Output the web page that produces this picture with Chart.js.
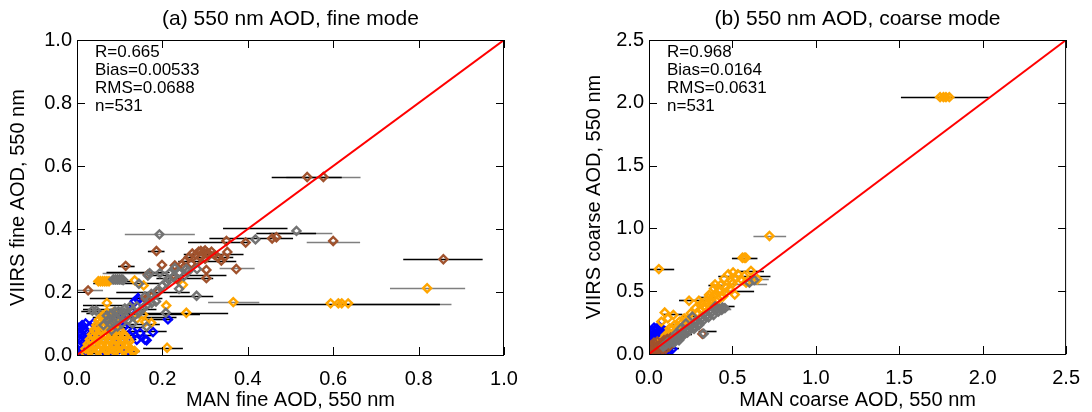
<!DOCTYPE html>
<html>
<head>
<meta charset="utf-8">
<title>VIIRS vs MAN AOD</title>
<script src="https://cdn.jsdelivr.net/npm/chart.js@4.4.0/dist/chart.umd.min.js"></script>
<style>
  body { margin: 0; background: #fff; }
  .panel { position: absolute; top: 0; width: 546px; height: 412px; }
</style>
</head>
<body>
<div class="panel" style="left:0"><canvas id="fineChart" width="546" height="412"></canvas></div>
<div class="panel" style="left:546px"><canvas id="coarseChart" width="546" height="412"></canvas></div>
<script>
// ---- fine mode, [MAN, VIIRS] pairs by site group ----
const fineBlue = [
  [0.005,0.01],[0.005,0.03],[0.005,0.05],[0.005,0.07],[0.008,0.085],[0.015,0.02],[0.015,0.04],
  [0.015,0.06],[0.015,0.08],[0.025,0.01],[0.025,0.03],[0.025,0.05],[0.025,0.07],[0.035,0.02],
  [0.035,0.045],[0.04,0.06],[0.045,0.08],[0.03,0.09],[0.02,0.1],[0.038,0.1],[0.055,0.0],[0.07,0.005],
  [0.0,0.0],[0.01,0.0],[0.0,0.02],[0.01,0.015],[0.01,0.045],[0.01,0.065],[0.02,0.035],[0.02,0.055],
  [0.02,0.075],[0.03,0.06],[0.03,0.025],[0.04,0.035],[0.045,0.06],[0.0,0.09],[0.012,0.095],
  [0.213,0.113],[0.178,0.073],[0.148,0.07],[0.13,0.076],[0.159,0.049],[0.163,0.047],[0.14,0.048],
  [0.12,0.012],[0.144,0.175],[0.128,0.143],[0.135,0.17],[0.143,0.181],[0.105,0.12],[0.11,0.09],
  [0.125,0.06],[0.09,0.04],[0.1,0.02]
];
const fineOrange = [
  [0.02,0.005],[0.04,0.005],[0.06,0.005],[0.08,0.005],[0.1,0.005],[0.12,0.005],
  [0.03,0.012],[0.05,0.012],[0.07,0.012],[0.09,0.012],[0.11,0.012],[0.13,0.012],
  [0.02,0.02],[0.035,0.02],[0.05,0.02],[0.065,0.02],[0.08,0.02],[0.095,0.02],[0.11,0.02],[0.125,0.02],
  [0.028,0.028],[0.043,0.028],[0.058,0.028],[0.073,0.028],[0.088,0.028],[0.103,0.028],[0.118,0.028],
  [0.025,0.035],[0.04,0.035],[0.055,0.035],[0.07,0.035],[0.085,0.035],[0.1,0.035],[0.115,0.035],
  [0.033,0.043],[0.048,0.043],[0.063,0.043],[0.078,0.043],[0.093,0.043],[0.108,0.043],[0.123,0.043],
  [0.03,0.05],[0.045,0.05],[0.06,0.05],[0.075,0.05],[0.09,0.05],[0.105,0.05],[0.12,0.05],
  [0.038,0.058],[0.053,0.058],[0.068,0.058],[0.083,0.058],[0.098,0.058],[0.113,0.058],
  [0.035,0.065],[0.05,0.065],[0.065,0.065],[0.08,0.065],[0.095,0.065],[0.11,0.065],
  [0.043,0.073],[0.058,0.073],[0.073,0.073],[0.088,0.073],[0.103,0.073],
  [0.04,0.08],[0.055,0.08],[0.07,0.08],[0.085,0.08],[0.1,0.08],
  [0.048,0.088],[0.063,0.088],[0.078,0.088],[0.093,0.088],
  [0.045,0.095],[0.06,0.095],[0.075,0.095],[0.09,0.095],
  [0.055,0.103],[0.07,0.103],[0.085,0.103],
  [0.05,0.11],[0.065,0.11],[0.08,0.11],[0.06,0.118],[0.075,0.118],[0.09,0.118],
  [0.06,0.125],[0.075,0.125],[0.07,0.135],[0.085,0.135],
  [0.155,0.128],[0.14,0.115],[0.16,0.105],[0.174,0.102],[0.135,0.013],[0.211,0.023],
  [0.07,0.165],[0.209,0.157],[0.256,0.134],[0.135,0.237],[0.156,0.221],[0.248,0.223],
  [0.05,0.234],[0.055,0.234],[0.06,0.234],[0.065,0.234],[0.07,0.234],[0.075,0.234],
  [0.366,0.168],[0.594,0.164],[0.612,0.164],[0.62,0.164],[0.635,0.164],[0.82,0.212]
];
const fineGray = [
  [0.514,0.394],[0.193,0.383],[0.418,0.367],[0.28,0.188],[0.239,0.21],[0.17,0.26],[0.166,0.252],
  [0.145,0.226],[0.085,0.24],[0.09,0.24],[0.095,0.24],[0.1,0.24],[0.105,0.24],[0.108,0.238],
  [0.036,0.141],[0.045,0.141],[0.208,0.134],[0.217,0.26],[0.229,0.276],[0.256,0.273],[0.281,0.273],
  [0.194,0.26],[0.213,0.241],[0.225,0.247],[0.159,0.186],[0.174,0.194],[0.186,0.202],
  [0.2,0.22],[0.21,0.23],[0.24,0.26],[0.25,0.25],[0.26,0.265],
  [0.073,0.111],[0.089,0.122],[0.097,0.138],[0.112,0.148],[0.124,0.153],[0.105,0.1],[0.12,0.111],
  [0.136,0.127],[0.151,0.143],[0.081,0.079],[0.163,0.09],[0.089,0.138],[0.062,0.095],[0.14,0.155],
  [0.07,0.125],[0.08,0.13],[0.085,0.105],[0.095,0.115],[0.1,0.128],[0.11,0.135],[0.115,0.12],
  [0.13,0.14],[0.145,0.135],[0.155,0.15],[0.165,0.16],[0.175,0.165],[0.185,0.17],[0.13,0.1],
  [0.095,0.09],[0.078,0.1]
];
const fineBrown = [
  [0.539,0.565],[0.577,0.565],[0.35,0.362],[0.395,0.357],[0.457,0.37],[0.467,0.374],[0.6,0.362],
  [0.858,0.304],[0.026,0.205],[0.114,0.283],[0.186,0.33],[0.373,0.273],[0.303,0.27],[0.303,0.244],
  [0.255,0.3],[0.262,0.31],[0.27,0.322],[0.278,0.318],[0.285,0.328],[0.29,0.33],[0.296,0.326],
  [0.3,0.332],[0.305,0.325],[0.31,0.32],[0.315,0.328],[0.322,0.318],[0.33,0.31],[0.338,0.3],
  [0.345,0.31],[0.352,0.327],[0.268,0.29],[0.28,0.298],[0.29,0.31],[0.3,0.305],[0.245,0.286],
  [0.25,0.278],[0.199,0.286],[0.229,0.284],[0.166,0.255],[0.229,0.249],[0.235,0.24],
  [0.161,0.178],[0.165,0.175],[0.175,0.185],[0.19,0.2]
];
// horizontal uncertainty of the MAN value: [VIIRS, MAN low, MAN high]
const fineBarsBlack = [
  [0.565,0.456,0.62],[0.404,0.342,0.493],[0.387,0.42,0.56],[0.373,0.31,0.506],[0.36,0.26,0.4],
  [0.33,0.166,0.205],[0.32,0.25,0.39],[0.31,0.25,0.366],[0.304,0.764,0.95],[0.297,0.237,0.373],
  [0.283,0.096,0.135],[0.265,0.069,0.217],[0.255,0.17,0.35],[0.243,0.186,0.319],[0.234,0.045,0.131],
  [0.228,0.038,0.194],[0.2,0.092,0.264],[0.188,0.217,0.319],[0.18,0.03,0.2],[0.162,0.37,0.85],
  [0.16,0.014,0.139],[0.145,0.014,0.186],[0.14,0.01,0.12],[0.134,0.022,0.354],[0.13,0.092,0.288],
  [0.12,0.037,0.233],[0.113,0.155,0.225],[0.1,0.022,0.194],[0.09,0.077,0.155],[0.075,0.037,0.21],
  [0.065,0.08,0.18],[0.05,0.014,0.139],[0.04,0.037,0.12],[0.023,0.155,0.248],[0.013,0.037,0.147],
  [0.005,0.01,0.1]
];
const fineBarsGray = [
  [0.565,0.49,0.664],[0.387,0.45,0.598],[0.383,0.112,0.276],[0.36,0.538,0.663],[0.275,0.334,0.416],
  [0.26,0.06,0.2],[0.212,0.733,0.909],[0.205,0.002,0.061],[0.168,0.307,0.427],[0.162,0.6,0.877]
];
const fineStats = ['R=0.665', 'Bias=0.00533', 'RMS=0.0688', 'n=531'];

// ---- coarse mode ----
const coarseBlue = [
  [0.01,0.02],[0.01,0.06],[0.01,0.1],[0.015,0.14],[0.02,0.18],[0.03,0.04],[0.03,0.12],[0.04,0.2],
  [0.05,0.16],[0.06,0.22],[0.07,0.19],[0.08,0.2],[0.05,0.08],[0.09,0.15],[0.1,0.06],[0.11,0.03],
  [0.12,0.02],[0.08,0.01],[0.03,0.0],[0.06,0.0],[0.13,0.08],[0.02,0.15],[0.04,0.12],
  [0.0,0.0],[0.0,0.04],[0.0,0.08],[0.0,0.12],[0.0,0.16],[0.02,0.1],[0.04,0.16],[0.06,0.18],
  [0.1,0.18],[0.07,0.13],[0.05,0.2],[0.03,0.21],[0.1,0.1],[0.12,0.05],[0.14,0.04],[0.09,0.0]
];
const coarseOrange = [
  [1.745,2.045],[1.765,2.045],[1.78,2.045],[1.8,2.045],[0.722,0.94],[0.059,0.676],
  [0.56,0.766],[0.571,0.766],[0.58,0.766],[0.475,0.635],[0.504,0.649],[0.533,0.635],[0.572,0.622],
  [0.611,0.662],[0.65,0.595],[0.494,0.581],[0.553,0.595],[0.582,0.568],[0.514,0.473],[0.396,0.554],
  [0.426,0.514],[0.455,0.486],[0.484,0.519],[0.24,0.424],[0.299,0.424],[0.318,0.405],[0.357,0.446],
  [0.387,0.459],[0.377,0.405],[0.406,0.419],[0.279,0.365],[0.25,0.324],[0.211,0.284],[0.182,0.257],
  [0.152,0.23],[0.123,0.203],[0.094,0.33],[0.146,0.311],[0.113,0.284],[0.074,0.257],[0.338,0.365],
  [0.416,0.432],[0.445,0.459],[0.07,0.1],[0.09,0.12],[0.05,0.09],
  [0.1,0.15],[0.12,0.17],[0.14,0.2],[0.17,0.22],[0.2,0.25],[0.22,0.27],[0.26,0.3],[0.29,0.33],
  [0.31,0.35],[0.33,0.38],[0.35,0.4],[0.37,0.43],[0.36,0.47],[0.4,0.48],[0.42,0.5],[0.46,0.53],
  [0.5,0.56],[0.52,0.6],[0.45,0.6],[0.43,0.55],[0.39,0.52],
  [0.04,0.06],[0.06,0.07],[0.08,0.09],[0.1,0.1],[0.12,0.13]
];
const coarseGray = [
  [0.631,0.589],[0.602,0.568],[0.455,0.365],[0.436,0.351],[0.416,0.338],[0.387,0.311],[0.357,0.292],
  [0.328,0.27],[0.299,0.243],[0.328,0.162],[0.27,0.216],[0.24,0.189],[0.211,0.162],[0.182,0.135],
  [0.152,0.108],[0.123,0.086],[0.094,0.068],[0.162,0.162],[0.26,0.297],[0.221,0.243],
  [0.191,0.203],[0.396,0.378],
  [0.085,0.06],[0.1,0.075],[0.11,0.09],[0.13,0.1],[0.14,0.115],[0.16,0.13],[0.17,0.145],
  [0.19,0.16],[0.2,0.175],[0.22,0.19],[0.23,0.2],[0.25,0.22],[0.26,0.23],[0.28,0.25],[0.29,0.26],
  [0.31,0.275],[0.32,0.29],[0.34,0.3],[0.35,0.31],[0.37,0.325],[0.38,0.335],[0.4,0.35],[0.42,0.36],
  [0.44,0.37],[0.15,0.09],[0.18,0.11],[0.2,0.14],[0.23,0.17],[0.27,0.2],[0.3,0.23]
];
const coarseBrown = [
  [0.01,0.01],[0.02,0.03],[0.03,0.05],[0.04,0.02],[0.05,0.06],[0.06,0.04],[0.07,0.08],[0.08,0.05],
  [0.09,0.09],[0.1,0.07],[0.12,0.1],[0.015,0.07],[0.03,0.09],[0.05,0.1],[0.11,0.12],[0.14,0.11],
  [0.06,0.01],[0.32,0.16],[0.0,0.0],[0.0,0.03],[0.0,0.06],[0.02,0.0],[0.04,0.04],[0.06,0.06],
  [0.08,0.07],[0.1,0.04],[0.12,0.06],[0.07,0.02],[0.09,0.11],[0.13,0.13],[0.16,0.12]
];
const coarseBarsBlack = [
  [2.045,1.51,2.04],[0.676,0.004,0.151],[0.766,0.497,0.65],[0.66,0.532,0.689],[0.62,0.415,0.728],
  [0.55,0.356,0.444],[0.5,0.454,0.63],[0.45,0.297,0.395],[0.43,0.18,0.337],[0.38,0.376,0.513],
  [0.32,0.082,0.2],[0.3,0.2,0.297],[0.24,0.141,0.219],[0.18,0.297,0.405],[0.16,0.18,0.258],
  [0.05,0.082,0.18]
];
const coarseBarsGray = [
  [0.94,0.626,0.822],[0.6,0.581,0.718],[0.56,0.493,0.708],[0.36,0.356,0.493]
];
const coarseStats = ['R=0.968', 'Bias=0.0164', 'RMS=0.0631', 'n=531'];

const FONT = "'Liberation Sans', Arial, Helvetica, sans-serif";
Chart.defaults.font.family = FONT;
Chart.defaults.color = '#000';

const toPts = arr => arr.map(p => ({ x: p[0], y: p[1] }));

// error bars, frame with inward ticks, stats block and panel title
const panelDecor = {
  id: 'panelDecor',
  beforeDatasetsDraw(chart, args, opts) {
    const { ctx, chartArea: a, scales: { x, y } } = chart;
    ctx.save();
    ctx.beginPath();
    ctx.rect(a.left, a.top, a.right - a.left, a.bottom - a.top);
    ctx.clip();
    ctx.lineWidth = 1.6;
    [[opts.barsGray, '#7f7f7f'], [opts.barsBlack, '#000']].forEach(([bars, col]) => {
      ctx.strokeStyle = col;
      bars.forEach(b => {
        const py = Math.round(y.getPixelForValue(b[0])) + 0.5;
        ctx.beginPath();
        ctx.moveTo(x.getPixelForValue(b[1]), py);
        ctx.lineTo(x.getPixelForValue(b[2]), py);
        ctx.stroke();
      });
    });
    ctx.restore();
  },
  afterDraw(chart, args, opts) {
    const { ctx, chartArea: a, scales: { x, y } } = chart;
    ctx.save();
    ctx.strokeStyle = '#000';
    ctx.lineWidth = 1;
    ctx.strokeRect(a.left + 0.5, a.top + 0.5, a.right - a.left - 1, a.bottom - a.top);
    const tl = 8;
    ctx.beginPath();
    x.ticks.forEach(t => {
      const px = Math.round(x.getPixelForValue(t.value)) + 0.5;
      ctx.moveTo(px, a.bottom); ctx.lineTo(px, a.bottom - tl);
      ctx.moveTo(px, a.top); ctx.lineTo(px, a.top + tl);
    });
    y.ticks.forEach(t => {
      const py = Math.round(y.getPixelForValue(t.value)) + 0.5;
      ctx.moveTo(a.left, py); ctx.lineTo(a.left + tl, py);
      ctx.moveTo(a.right, py); ctx.lineTo(a.right - tl, py);
    });
    ctx.stroke();

    ctx.fillStyle = '#000';
    ctx.textAlign = 'left';
    ctx.textBaseline = 'alphabetic';
    ctx.font = '17px ' + FONT;
    opts.stats.forEach((s, i) => ctx.fillText(s, a.left + 18, a.top + 17 + i * 18));

    ctx.textAlign = 'center';
    ctx.font = '21px ' + FONT;
    ctx.fillText(opts.title, (a.left + a.right) / 2, 25);
    ctx.restore();
  }
};

function makePanel(id, cfg) {
  const group = (data, color, order) => ({
    data: toPts(data),
    pointStyle: 'rectRot',
    pointRadius: 4,
    pointHoverRadius: 4,
    borderWidth: 2.4,
    borderColor: color,
    backgroundColor: 'rgba(0,0,0,0)',
    order: order
  });
  return new Chart(document.getElementById(id), {
    type: 'scatter',
    data: {
      datasets: [
        {
          data: [{ x: 0, y: 0 }, { x: cfg.max, y: cfg.max }],
          showLine: true,
          borderColor: '#ff0000',
          borderWidth: 2,
          pointRadius: 0,
          order: 0
        },
        group(cfg.gray, '#737373', 1),
        group(cfg.brown, '#a0522d', 2),
        group(cfg.orange, '#ffa500', 3),
        group(cfg.blue, '#0000ff', 4)
      ]
    },
    options: {
      responsive: false,
      animation: false,
      events: [],
      layout: { padding: cfg.padding },
      plugins: {
        legend: { display: false },
        tooltip: { enabled: false },
        panelDecor: {
          barsBlack: cfg.barsBlack,
          barsGray: cfg.barsGray,
          stats: cfg.stats,
          title: cfg.title
        }
      },
      scales: {
        x: {
          min: 0, max: cfg.max,
          grid: { display: false, drawTicks: false },
          border: { display: false },
          ticks: { stepSize: cfg.step, padding: 12, font: { size: 20 }, callback: v => v.toFixed(1) },
          title: { display: true, text: cfg.xTitle, font: { size: 20 }, padding: { top: 0, bottom: 0 } },
          afterFit: s => { s.height = cfg.xHeight; }
        },
        y: {
          min: 0, max: cfg.max,
          grid: { display: false, drawTicks: false },
          border: { display: false },
          ticks: { stepSize: cfg.step, padding: 5, font: { size: 20 }, callback: v => v.toFixed(1) },
          title: { display: true, text: cfg.yTitle, font: { size: 20 }, padding: { top: cfg.yTitlePad, bottom: 0 } },
          afterFit: s => { s.width = cfg.yWidth; }
        }
      }
    },
    plugins: [panelDecor]
  });
}

makePanel('fineChart', {
  max: 1.0, step: 0.2,
  blue: fineBlue, orange: fineOrange, gray: fineGray, brown: fineBrown,
  barsBlack: fineBarsBlack, barsGray: fineBarsGray, stats: fineStats,
  title: '(a) 550 nm AOD, fine mode',
  xTitle: 'MAN fine AOD, 550 nm',
  yTitle: 'VIIRS fine AOD, 550 nm',
  padding: { top: 40, right: 42, left: 0, bottom: 0 },
  xHeight: 57, yWidth: 77, yTitlePad: 6
});

makePanel('coarseChart', {
  max: 2.5, step: 0.5,
  blue: coarseBlue, orange: coarseOrange, gray: coarseGray, brown: coarseBrown,
  barsBlack: coarseBarsBlack, barsGray: coarseBarsGray, stats: coarseStats,
  title: '(b) 550 nm AOD, coarse mode',
  xTitle: 'MAN coarse AOD, 550 nm',
  yTitle: 'VIIRS coarse AOD, 550 nm',
  padding: { top: 40, right: 16, left: 0, bottom: 0 },
  xHeight: 58, yWidth: 103, yTitlePad: 36
});
</script>
</body>
</html>
